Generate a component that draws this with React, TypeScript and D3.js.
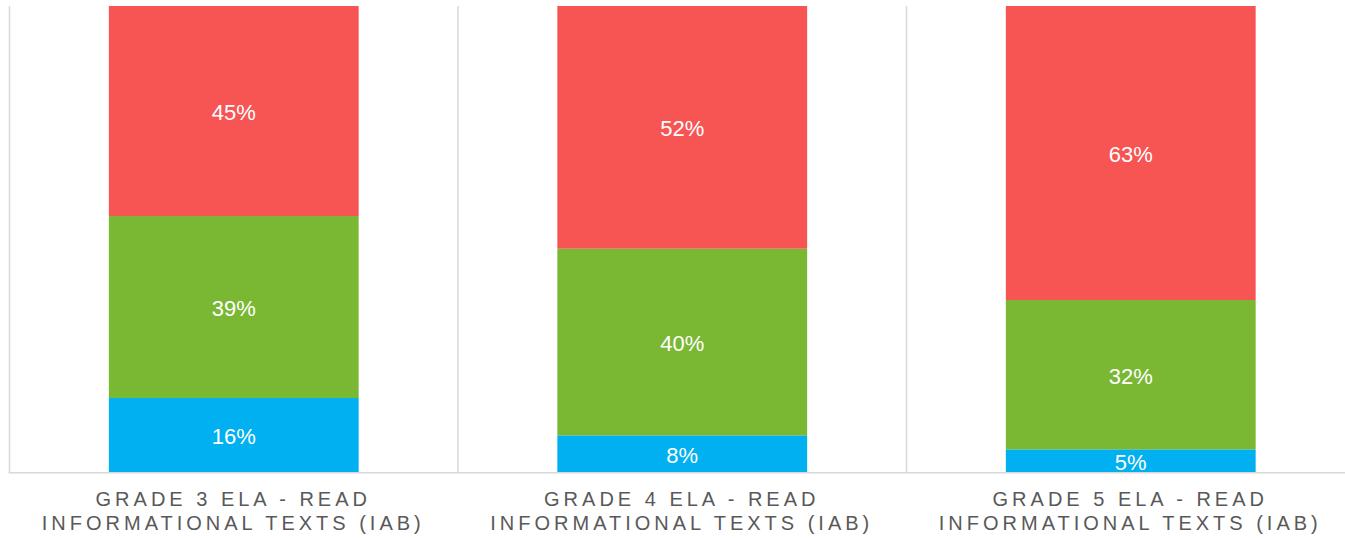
import React, { useEffect, useRef } from 'react';
import * as d3 from 'd3';

// categories (two-line axis labels)
const categories = ['Grade 3', 'Grade 4', 'Grade 5'];
const labelLine1 = ['GRADE 3 ELA - READ', 'GRADE 4 ELA - READ', 'GRADE 5 ELA - READ'];
const labelLine2 = ['INFORMATIONAL TEXTS (IAB)', 'INFORMATIONAL TEXTS (IAB)', 'INFORMATIONAL TEXTS (IAB)'];

// series values (percent), bottom to top
const blueValues = [16, 8, 5];
const greenValues = [39, 40, 32];
const redValues = [45, 52, 63];

const seriesKeys = ['blue', 'green', 'red'];
const seriesColors = ['#00B0F0', '#7AB733', '#F75454'];

const W = 1345;
const H = 538;

const App: React.FC = () => {
  const ref = useRef<SVGSVGElement>(null);

  useEffect(() => {
    const svg = d3.select(ref.current);
    svg.selectAll('*').remove();

    const margin = { top: 6, left: 9.5, bottom: 65.3 };
    const plotRight = 1355;
    const plotBottom = H - margin.bottom;

    const data = categories.map((c, i) => ({
      cat: c,
      blue: blueValues[i],
      green: greenValues[i],
      red: redValues[i],
    }));

    const x = d3.scaleBand()
      .domain(categories)
      .range([margin.left, plotRight])
      .paddingInner(0)
      .paddingOuter(0);

    const y = d3.scaleLinear()
      .domain([0, 100])
      .range([plotBottom, margin.top]);

    const color = d3.scaleOrdinal<string, string>()
      .domain(seriesKeys)
      .range(seriesColors);

    const stacked = d3.stack<any>().keys(seriesKeys)(data);

    const barW = x.bandwidth() * 0.557;

    // category separators
    svg.append('g')
      .selectAll('line')
      .data(categories.slice(1))
      .enter().append('line')
      .attr('x1', (d) => x(d)!)
      .attr('x2', (d) => x(d)!)
      .attr('y1', margin.top)
      .attr('y2', plotBottom)
      .attr('stroke', '#d9d9d9')
      .attr('stroke-width', 1.5);

    // left axis line
    svg.append('line')
      .attr('x1', margin.left)
      .attr('x2', margin.left)
      .attr('y1', margin.top)
      .attr('y2', plotBottom)
      .attr('stroke', '#d9d9d9')
      .attr('stroke-width', 1.5);

    const groups = svg.append('g')
      .selectAll('g')
      .data(stacked)
      .enter().append('g')
      .attr('fill', (d) => color(d.key));

    groups.selectAll('rect')
      .data((d) => d)
      .enter().append('rect')
      .attr('x', (d: any) => x(d.data.cat)! + (x.bandwidth() - barW) / 2)
      .attr('y', (d) => y(d[1]))
      .attr('width', barW)
      .attr('height', (d) => y(d[0]) - y(d[1]));

    groups.selectAll('text')
      .data((d) => d)
      .enter().append('text')
      .attr('x', (d: any) => x(d.data.cat)! + x.bandwidth() / 2)
      .attr('y', (d) => (y(d[0]) + y(d[1])) / 2 + 1)
      .attr('dy', '0.36em')
      .attr('text-anchor', 'middle')
      .attr('fill', '#ffffff')
      .attr('font-family', 'Liberation Sans, Arial, sans-serif')
      .attr('font-size', 22)
      .text((d) => `${d[1] - d[0]}%`);

    // baseline
    svg.append('line')
      .attr('x1', margin.left - 1)
      .attr('x2', W)
      .attr('y1', plotBottom)
      .attr('y2', plotBottom)
      .attr('stroke', '#d9d9d9')
      .attr('stroke-width', 1.5);

    // category labels
    const labels = svg.append('g')
      .attr('font-family', 'Liberation Sans, Arial, sans-serif')
      .attr('font-size', 20)
      .attr('fill', '#595959')
      .attr('letter-spacing', '4px')
      .attr('text-anchor', 'middle');

    categories.forEach((c, i) => {
      const cx = x(c)! + x.bandwidth() / 2 - 0.5;
      labels.append('text').attr('x', cx).attr('y', 506).text(labelLine1[i]);
      labels.append('text').attr('x', cx).attr('y', 530).text(labelLine2[i]);
    });
  }, []);

  return (
    <svg
      ref={ref}
      width={W}
      height={H}
      style={{ position: 'absolute', left: 0, top: 0, background: '#ffffff' }}
    />
  );
};

export default App;
